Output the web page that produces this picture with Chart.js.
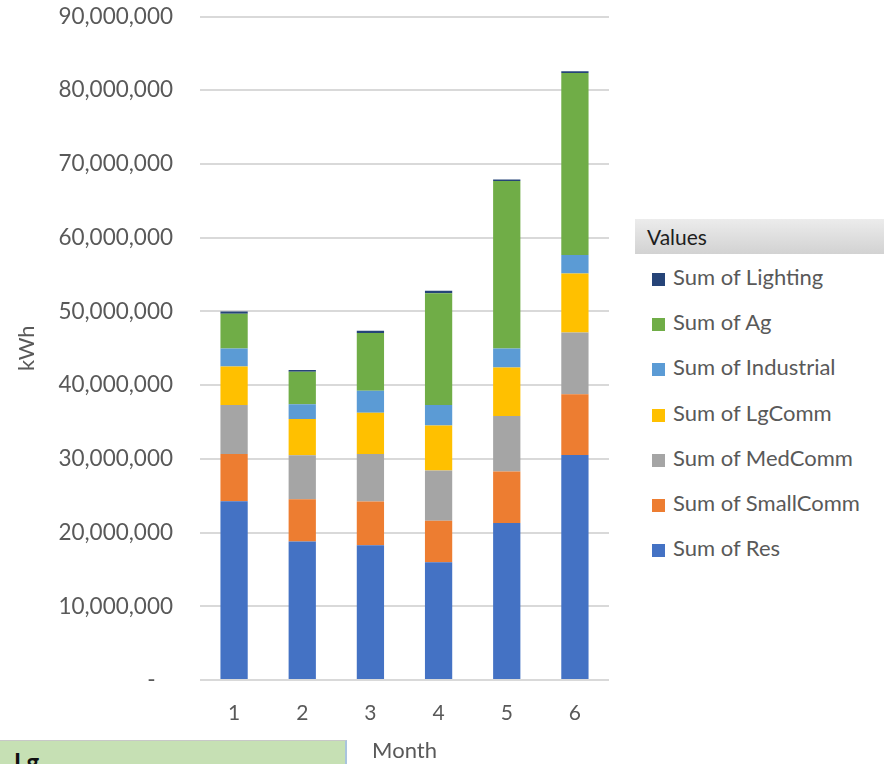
<!DOCTYPE html>
<html>
<head>
<meta charset="utf-8">
<script src="https://cdn.jsdelivr.net/npm/chart.js@4"></script>
<style>
  body { margin: 0; background: #fff; width: 890px; height: 764px; overflow: hidden; position: relative; font-family: Lato, "Open Sans", sans-serif; }
  #wrap { position: absolute; left: 0; top: -24px; width: 620px; height: 788px; }
  #legendHead { position: absolute; left: 635px; top: 219px; width: 249px; height: 35px; background: linear-gradient(#ececec, #d2d2d2); color: #1e1e1e; font-size: 21px; line-height: 35px; padding-left: 12px; box-sizing: border-box; }
  .lg-item { position: absolute; left: 652px; height: 26px; line-height: 26px; font-size: 22px; color: #595959; white-space: nowrap; }
  .lg-item span { display: inline-block; width: 13px; height: 13px; margin-right: 8px; vertical-align: -1px; }
  #cell { position: absolute; left: 0; top: 740px; width: 345px; height: 24px; background: #c6e0b4; border-top: 1px solid #c8c8c8; border-right: 2px solid #a9c4de; overflow: hidden; }
  #cell b { position: absolute; left: 14px; top: 6px; font-size: 24px; color: #111; }
</style>
</head>
<body>
<div id="wrap"><canvas id="chartKwh"></canvas></div>
<div id="legendHead">Values</div>
<div id="legendBox"></div>
<div id="cell"><b>Lg</b></div>
<script>
  const months = ["1", "2", "3", "4", "5", "6"];
  const sumRes = [24260000, 18790000, 18280000, 15980000, 21310000, 30520000];
  const sumSmallComm = [6380000, 5740000, 5940000, 5620000, 6970000, 8230000];
  const sumMedComm = [6650000, 5970000, 6420000, 6820000, 7520000, 8390000];
  const sumLgComm = [5250000, 4890000, 5600000, 6110000, 6600000, 8010000];
  const sumIndustrial = [2440000, 2030000, 2990000, 2760000, 2560000, 2510000];
  const sumAg = [4700000, 4390000, 7830000, 15160000, 22720000, 24680000];
  const sumLighting = [320000, 230000, 310000, 350000, 220000, 220000];
  const yTicks = [0, 10000000, 20000000, 30000000, 40000000, 50000000, 60000000, 70000000, 80000000, 90000000];

  const series = [
    { label: "Sum of Res", data: sumRes, color: "#4472c4" },
    { label: "Sum of SmallComm", data: sumSmallComm, color: "#ed7d31" },
    { label: "Sum of MedComm", data: sumMedComm, color: "#a5a5a5" },
    { label: "Sum of LgComm", data: sumLgComm, color: "#ffc000" },
    { label: "Sum of Industrial", data: sumIndustrial, color: "#5b9bd5" },
    { label: "Sum of Ag", data: sumAg, color: "#70ad47" },
    { label: "Sum of Lighting", data: sumLighting, color: "#264478" }
  ];

  const fontFam = "Lato, 'Open Sans', sans-serif";
  const grey = "#595959";

  // legend, top row is the last series like Excel
  const legendBox = document.getElementById("legendBox");
  series.slice().reverse().forEach((s, i) => {
    const el = document.createElement("div");
    el.className = "lg-item";
    el.style.top = (264 + i * 45.2) + "px";
    el.innerHTML = `<span style="background:${s.color}"></span>${s.label}`;
    legendBox.appendChild(el);
  });

  new Chart(document.getElementById("chartKwh"), {
    type: "bar",
    data: {
      labels: months,
      datasets: series.map(s => ({ label: s.label, data: s.data, backgroundColor: s.color, borderWidth: 0, barPercentage: 0.4, categoryPercentage: 1 }))
    },
    options: {
      responsive: true,
      maintainAspectRatio: false,
      animation: false,
      layout: { padding: { top: 0, right: 11, left: 0, bottom: 0 } },
      plugins: { legend: { display: false }, tooltip: { enabled: false } },
      scales: {
        x: {
          stacked: true,
          grid: { display: false },
          border: { display: false },
          ticks: { color: grey, font: { family: fontFam, size: 21 }, padding: 13 },
          title: { display: true, text: "Month", color: grey, font: { family: fontFam, size: 22 }, padding: { top: 0, bottom: 0 } },
          afterFit: s => { s.height = 84; }
        },
        y: {
          stacked: true,
          min: 0,
          max: 90000000,
          afterBuildTicks: s => { s.ticks = yTicks.map(v => ({ value: v })); },
          grid: { color: "#d9d9d9", lineWidth: 2, drawTicks: false },
          border: { display: false },
          ticks: {
            color: grey,
            font: { family: fontFam, size: 22.5 },
            padding: 27,
            callback: v => v === 0 ? "-   " : Number(v).toLocaleString("en-US")
          },
          title: { display: true, text: "kWh", color: grey, font: { family: fontFam, size: 22 }, padding: { top: 14, bottom: 0 } },
          afterFit: s => { s.width = 200; }
        }
      }
    }
  });
</script>
</body>
</html>
